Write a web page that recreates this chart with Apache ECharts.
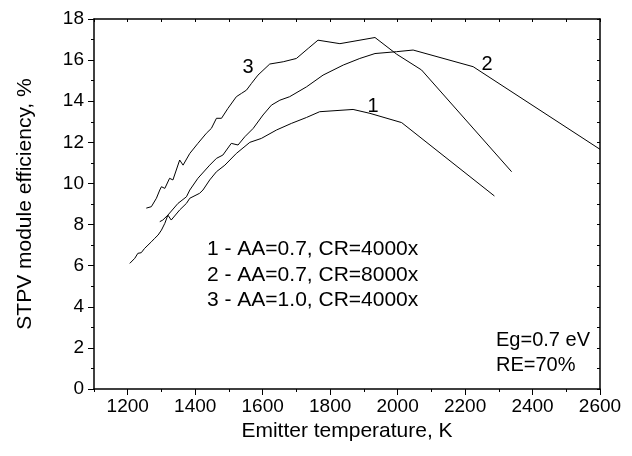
<!DOCTYPE html>
<html>
<head>
<meta charset="utf-8">
<script src="https://cdn.jsdelivr.net/npm/echarts@6/dist/echarts.min.js"></script>
<style>html,body{margin:0;padding:0;background:#fff}#c{width:632px;height:456px}</style>
</head>
<body>
<div id="c"></div>
<script>
// Curve 1: AA=0.7, CR=4000x
const c1T = [1295,1304,1319,1329,1354,1374,1384,1413,1423,1443,1463,1488,1522,1562,1596,1641,1685,1730,1769,1868,1918,2012,2287];
const c1E = [8.14,8.22,8.46,8.22,8.71,9.03,9.28,9.52,9.68,10.17,10.57,10.89,11.46,12.0,12.19,12.60,12.92,13.21,13.49,13.60,13.41,12.96,9.39];
// Curve 2: AA=0.7, CR=8000x
const c2T = [1206,1221,1230,1240,1250,1260,1270,1280,1290,1300,1310,1319,1349,1374,1384,1408,1443,1463,1482,1507,1527,1547,1572,1601,1626,1651,1680,1730,1779,1839,1888,1933,1997,2046,2224,2600];
const c2E = [6.11,6.36,6.60,6.63,6.84,7.00,7.16,7.33,7.49,7.73,8.06,8.46,9.03,9.35,9.68,10.25,10.89,11.22,11.38,11.95,11.87,12.27,12.68,13.33,13.81,14.05,14.22,14.70,15.27,15.76,16.08,16.32,16.41,16.49,15.68,11.66];
// Curve 3: AA=1.0, CR=4000x
const c3T = [1255,1270,1285,1295,1300,1310,1324,1334,1354,1364,1384,1408,1433,1448,1463,1478,1497,1522,1537,1552,1567,1586,1621,1661,1700,1735,1764,1829,1933,1997,2071,2338];
const c3E = [8.80,8.87,9.28,9.68,9.84,9.76,10.25,10.17,11.14,10.89,11.46,11.95,12.44,12.68,13.17,13.17,13.65,14.22,14.38,14.54,14.87,15.27,15.81,15.92,16.08,16.57,16.97,16.80,17.10,16.29,15.52,10.57];

const xMajor = [1200,1400,1600,1800,2000,2200,2400,2600];
const legendLines = ['1 - AA=0.7, CR=4000x','2 - AA=0.7, CR=8000x','3 - AA=1.0, CR=4000x'];
const notes = ['Eg=0.7 eV','RE=70%'];

const FONT = '"Liberation Sans", Arial, sans-serif';
const zip = (a,b) => a.map((v,i)=>[v,b[i]]);
const lineSeries = (d) => ({type:'line', data:d, showSymbol:false, symbol:'none',
  lineStyle:{color:'#000', width:1}, itemStyle:{color:'#000'}, xAxisIndex:0, yAxisIndex:0, animation:false});

const chart = echarts.init(document.getElementById('c'), null, {renderer:'canvas'});
const axisLine = {show:true, lineStyle:{color:'#000', width:1.5}};
chart.setOption({
  animation:false,
  grid:{left:94, top:19, right:32, bottom:67, containLabel:false},
  xAxis:[
    {type:'value', min:1100, max:2600, interval:100, position:'bottom',
     axisLine:axisLine,
     axisTick:{show:true, inside:false, length:6, customValues:xMajor, lineStyle:{color:'#000', width:1}},
     axisLabel:{show:true, customValues:xMajor, formatter:(v)=>String(v), color:'#000', fontSize:19, fontFamily:FONT, margin:8},
     splitLine:{show:false},
     name:'Emitter temperature, K', nameLocation:'middle', nameGap:25,
     nameTextStyle:{color:'#000', fontSize:21, fontFamily:FONT}},
    {type:'value', min:1100, max:2600, interval:100, position:'bottom',
     axisLine:{show:false}, axisTick:{show:true, inside:false, length:3, lineStyle:{color:'#000', width:1}},
     axisLabel:{show:false}, splitLine:{show:false}},
    {type:'value', min:1100, max:2600, interval:100, position:'top',
     axisLine:axisLine, axisTick:{show:true, inside:true, length:3, lineStyle:{color:'#000', width:1}},
     axisLabel:{show:false}, splitLine:{show:false}}
  ],
  yAxis:[
    {type:'value', min:0, max:18, interval:2, position:'left',
     axisLine:axisLine,
     axisTick:{show:true, inside:false, length:6, lineStyle:{color:'#000', width:1}},
     minorTick:{show:true, splitNumber:2, length:3, lineStyle:{color:'#000', width:1}},
     axisLabel:{color:'#000', fontSize:19, fontFamily:FONT, margin:10},
     splitLine:{show:false}, minorSplitLine:{show:false},
     name:'STPV module efficiency, %', nameLocation:'middle', nameGap:58,
     nameTextStyle:{color:'#000', fontSize:21, fontFamily:FONT}},
    {type:'value', min:0, max:18, interval:1, position:'right',
     axisLine:axisLine, axisTick:{show:true, inside:true, length:3, lineStyle:{color:'#000', width:1}},
     axisLabel:{show:false}, splitLine:{show:false}}
  ],
  series:[lineSeries(zip(c1T,c1E)), lineSeries(zip(c2T,c2E)), lineSeries(zip(c3T,c3E))],
  graphic:[
    {type:'text', style:{text:'1', x:373, y:106, font:'20px '+FONT, fill:'#000', align:'center', verticalAlign:'middle'}},
    {type:'text', style:{text:'2', x:487, y:64, font:'20px '+FONT, fill:'#000', align:'center', verticalAlign:'middle'}},
    {type:'text', style:{text:'3', x:248, y:67, font:'20px '+FONT, fill:'#000', align:'center', verticalAlign:'middle'}},
    {type:'text', style:{text:legendLines[0], x:207, y:249.5, font:'21px '+FONT, fill:'#000', verticalAlign:'middle'}},
    {type:'text', style:{text:legendLines[1], x:207, y:275, font:'21px '+FONT, fill:'#000', verticalAlign:'middle'}},
    {type:'text', style:{text:legendLines[2], x:207, y:300.5, font:'21px '+FONT, fill:'#000', verticalAlign:'middle'}},
    {type:'text', style:{text:notes[0], x:496, y:340, font:'20px '+FONT, fill:'#000', verticalAlign:'middle'}},
    {type:'text', style:{text:notes[1], x:496, y:365, font:'20px '+FONT, fill:'#000', verticalAlign:'middle'}}
  ]
});
</script>
</body>
</html>
